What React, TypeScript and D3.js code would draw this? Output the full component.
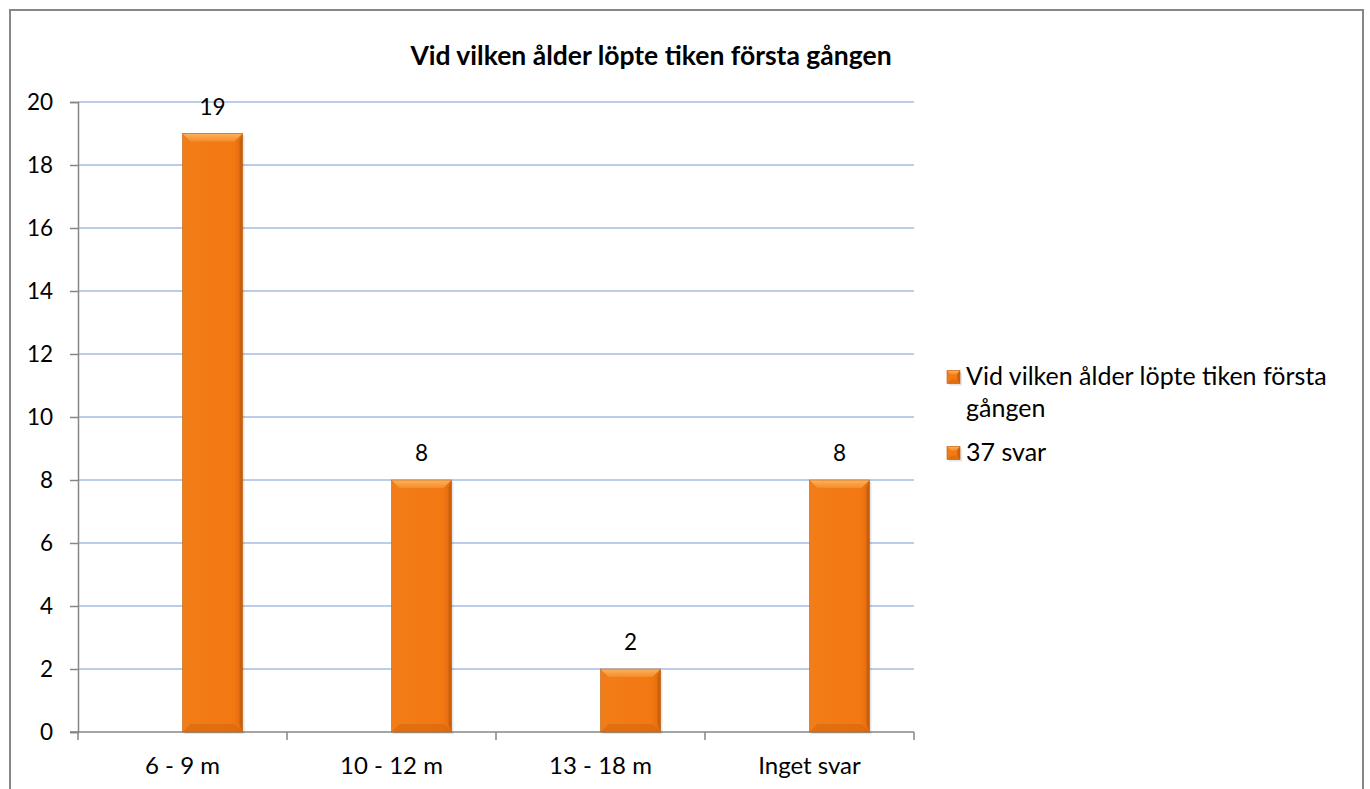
import { useEffect, useRef } from "react";
import * as d3 from "d3";

const TITLE = "Vid vilken ålder löpte tiken första gången";
const CATEGORIES = ["6 - 9 m", "10 - 12 m", "13 - 18 m", "Inget svar"];
const SERIES_NAMES = ["Vid vilken ålder löpte tiken första gången", "37 svar"];
// first series has no values in the source, only the second one is drawn
const SERIES_A: (number | null)[] = [null, null, null, null];
const SERIES_B: (number | null)[] = [19, 8, 2, 8];
const Y_TICKS = [0, 2, 4, 6, 8, 10, 12, 14, 16, 18, 20];
const LEGEND_LINES = [["Vid vilken ålder löpte tiken första", "gången"], ["37 svar"]];

const W = 1370;
const H = 789;
const PLOT = { left: 78, right: 914, top: 102, bottom: 732 };
const FONT = "Lato, 'Open Sans', sans-serif";
const TXT = 25;
const NUM = 22.5;

export default function App() {
  const svgRef = useRef<SVGSVGElement | null>(null);

  useEffect(() => {
    const svg = svgRef.current;
    if (!svg) return;
    svg.innerHTML = "";
    const root = d3.select(svg).attr("width", W).attr("height", H);

    // gradients for the bevelled bars
    const defs = root.append("defs");
    const grad = defs.append("linearGradient").attr("id", "barFill")
      .attr("x1", 0).attr("y1", 0).attr("x2", 1).attr("y2", 0);
    grad.append("stop").attr("offset", "0%").attr("stop-color", "#f27d18");
    grad.append("stop").attr("offset", "85%").attr("stop-color", "#f27812");
    grad.append("stop").attr("offset", "100%").attr("stop-color", "#e06a0e");
    const topGrad = defs.append("linearGradient").attr("id", "barTop")
      .attr("x1", 0).attr("y1", 0).attr("x2", 0).attr("y2", 1);
    topGrad.append("stop").attr("offset", "0%").attr("stop-color", "#fbb260");
    topGrad.append("stop").attr("offset", "100%").attr("stop-color", "#f68c2a");

    // chart frame
    root.append("rect")
      .attr("x", 10).attr("y", 10)
      .attr("width", 1353).attr("height", 790)
      .attr("fill", "#fff").attr("stroke", "#878787").attr("stroke-width", 2);

    const x0 = d3.scaleBand().domain(CATEGORIES).range([PLOT.left, PLOT.right]).padding(0);
    const x1 = d3.scaleBand().domain(SERIES_NAMES).range([0, x0.bandwidth()])
      .paddingInner(0).paddingOuter(0.742);
    const y = d3.scaleLinear().domain([0, 20]).range([PLOT.bottom, PLOT.top]);

    // gridlines
    root.append("g").selectAll("line")
      .data(Y_TICKS.filter((t) => t > 0))
      .join("line")
      .attr("x1", PLOT.left).attr("x2", PLOT.right)
      .attr("y1", (d) => y(d)).attr("y2", (d) => y(d))
      .attr("stroke", "#a6bde3").attr("stroke-width", 1.3);

    // y axis
    const yAxis = root.append("g")
      .attr("transform", `translate(${PLOT.left},0)`)
      .call(d3.axisLeft(y).tickValues(Y_TICKS).tickSize(8).tickPadding(17).tickFormat((d) => `${d}`));
    yAxis.select(".domain").attr("stroke", "#868686").attr("stroke-width", 1.5);
    yAxis.selectAll(".tick line").attr("stroke", "#868686").attr("stroke-width", 1.5);
    yAxis.selectAll("text").attr("font-family", FONT).attr("font-size", NUM).attr("fill", "#000");

    // x axis: ticks on the band edges
    const xAxis = root.append("g").attr("transform", `translate(0,${PLOT.bottom})`);
    xAxis.append("line")
      .attr("x1", PLOT.left - 8).attr("x2", PLOT.right)
      .attr("stroke", "#868686").attr("stroke-width", 1.5);
    const edges = CATEGORIES.map((c) => x0(c)!).concat([PLOT.right]);
    xAxis.selectAll(".edge").data(edges).join("line")
      .attr("class", "edge")
      .attr("x1", (d) => d).attr("x2", (d) => d)
      .attr("y1", 0).attr("y2", 8)
      .attr("stroke", "#868686").attr("stroke-width", 1.5);
    xAxis.selectAll(".lbl").data(CATEGORIES).join("text")
      .attr("class", "lbl")
      .attr("x", (d) => x0(d)! + x0.bandwidth() / 2)
      .attr("y", 42)
      .attr("text-anchor", "middle")
      .attr("font-family", FONT).attr("font-size", TXT - 1)
      .text((d) => d);

    // bars
    const drawBar = (g: any, bx: number, by: number, bw: number, bh: number, bev = 8) => {
      const b = Math.min(bev, bh / 2);
      g.append("rect").attr("x", bx + 2).attr("y", by + 2).attr("width", bw).attr("height", bh)
        .attr("fill", "#000").attr("opacity", 0.1);
      g.append("rect").attr("x", bx).attr("y", by).attr("width", bw).attr("height", bh)
        .attr("fill", "url(#barFill)");
      g.append("polygon")
        .attr("points", `${bx},${by} ${bx + bw},${by} ${bx + bw - b},${by + b} ${bx + b},${by + b}`)
        .attr("fill", "url(#barTop)");
      g.append("polygon")
        .attr("points", `${bx + bw},${by} ${bx + bw - 3},${by + b} ${bx + bw - 3},${by + bh - b} ${bx + bw},${by + bh}`)
        .attr("fill", "#b5560c").attr("opacity", 0.55);
      g.append("polygon")
        .attr("points", `${bx},${by + bh} ${bx + b},${by + bh - b} ${bx + bw - b},${by + bh - b} ${bx + bw},${by + bh}`)
        .attr("fill", "#d46810").attr("opacity", 0.6);
      g.append("rect").attr("x", bx).attr("y", by).attr("width", bw).attr("height", bh)
        .attr("fill", "none").attr("stroke", "#c0600e").attr("stroke-width", 0.6);
    };

    const series = [SERIES_A, SERIES_B];
    const barsG = root.append("g");
    series.forEach((vals, si) => {
      vals.forEach((v, i) => {
        if (v === null) return;
        const bx = x0(CATEGORIES[i])! + x1(SERIES_NAMES[si])!;
        const bw = x1.bandwidth();
        const by = y(v);
        const bh = PLOT.bottom - by;
        drawBar(barsG.append("g"), bx, by, bw, bh);
        barsG.append("text")
          .attr("x", bx + bw / 2).attr("y", by - 19)
          .attr("text-anchor", "middle")
          .attr("font-family", FONT).attr("font-size", NUM)
          .text(`${v}`);
      });
    });

    // title
    root.append("text")
      .attr("x", 651).attr("y", 65)
      .attr("text-anchor", "middle")
      .attr("font-family", FONT).attr("font-weight", "bold").attr("font-size", 26.5)
      .text(TITLE);

    // legend
    const legendY = [377, 453];
    LEGEND_LINES.forEach((lines, i) => {
      const g = root.append("g");
      drawBar(g, 947, legendY[i] - 6.5, 13, 13, 4);
      lines.forEach((ln, j) => {
        g.append("text")
          .attr("x", 966).attr("y", legendY[i] + 8 + j * 32)
          .attr("font-family", FONT).attr("font-size", TXT)
          .text(ln);
      });
    });
  }, []);

  return (
    <div style={{ position: "absolute", left: 0, top: 0, width: W, height: H, overflow: "hidden", background: "#fff" }}>
      <svg ref={svgRef} role="img" aria-label={TITLE} />
    </div>
  );
}
